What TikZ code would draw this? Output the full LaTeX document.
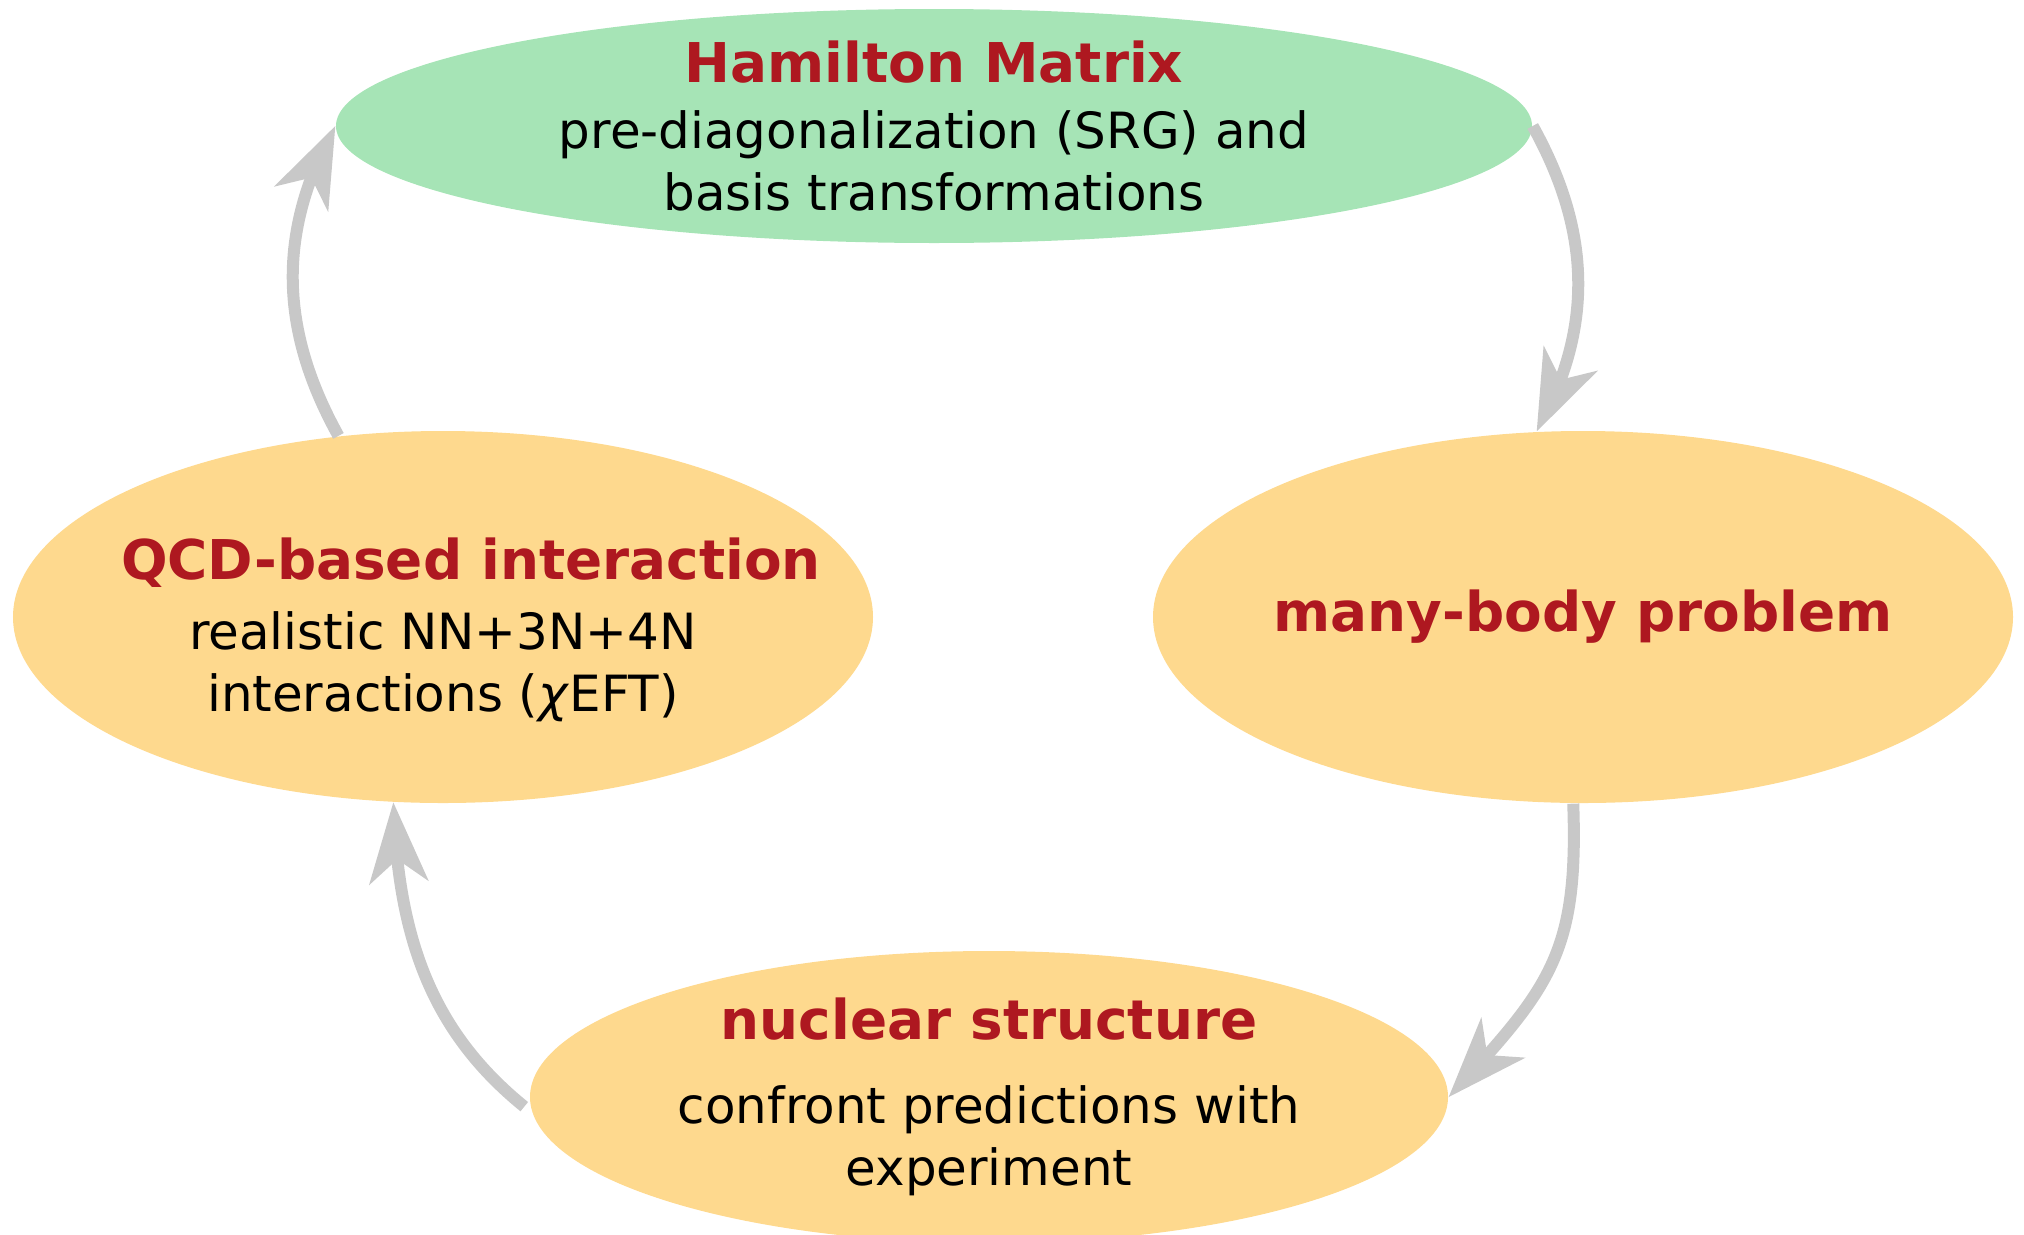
\documentclass[tikz,border=0pt]{standalone}
\usepackage{fontspec}
\setmainfont{DejaVu Sans}
\usepackage{xcolor}
\usetikzlibrary{shapes.geometric,arrows.meta,bending,positioning}
\definecolor{verde}{HTML}{A6E4B6}
\definecolor{naranja}{HTML}{FED98E}
\definecolor{rojo}{HTML}{AE1820}
\definecolor{gris}{HTML}{C8C8C8}
\newcommand{\titulo}[1]{{\fontsize{15.6}{17.6}\selectfont\bfseries\color{rojo}#1}}

\begin{document}
\begin{tikzpicture}[
    elip/.style={ellipse, inner xsep=-1.5cm, inner ysep=-0.6cm, align=center, font=\fontsize{14.2}{17.6}\selectfont},
    flecha/.style={draw=gris, line width=0.12cm, -{Stealth[flex, length=0.81cm, width=0.6cm, inset=0.24cm, line width=0pt]}}
  ]
  \useasboundingbox (0,0) rectangle (20.24,12.34);

  \node[elip, fill=verde, minimum width=11.96cm, minimum height=2.34cm] (ham) at (9.34,11.08)
    {\titulo{Hamilton Matrix}\\[1pt] pre-diagonalization (SRG) and\\ basis transformations};
  \node[elip, fill=naranja, minimum width=8.6cm, minimum height=3.72cm] (qcd) at (4.43,6.17)
    {\raisebox{0pt}[\dimexpr\height+7.4pt]{\parbox{8cm}{\centering\hspace*{0.56cm}\titulo{QCD-based interaction}\\[2.3pt] realistic NN+3N+4N\\ interactions (\textit{χ}EFT)}}};
  \node[elip, fill=naranja, minimum width=8.6cm, minimum height=3.72cm] (mbp) at (15.83,6.17)
    {\titulo{many-body problem}};
  \node[elip, fill=naranja, minimum width=9.18cm, minimum height=2.92cm] (nuc) at (9.89,1.37)
    {\titulo{nuclear structure}\\[6.3pt] confront predictions with\\ experiment};

  \draw[flecha] (qcd.120) to[out=119, in=-119] (ham.west);
  \draw[flecha] (ham.east) to[out=-61, in=61] (mbp.104);
  \draw[flecha] (mbp.-93) to[out=-88, in=47, looseness=1.2] (nuc.east);
  \draw[flecha, shorten <=0.1cm] (nuc.182) to[out=141, in=-88] (qcd.255);
\end{tikzpicture}
\end{document}
